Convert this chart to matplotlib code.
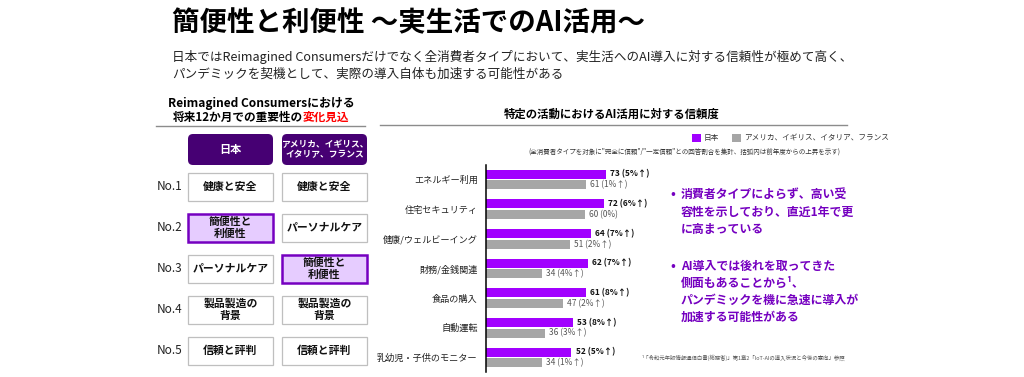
import matplotlib
matplotlib.use("Agg")
import matplotlib.pyplot as plt
from matplotlib.patches import FancyBboxPatch, Rectangle

plt.rcParams['font.family'] = ['Noto Sans CJK JP', 'DejaVu Sans']

# ---- data ----
title = '簡便性と利便性 ～実生活でのAI活用～'
subtitle = ['日本ではReimagined Consumersだけでなく全消費者タイプにおいて、実生活へのAI導入に対する信頼性が極めて高く、',
            'パンデミックを契機として、実際の導入自体も加速する可能性がある']

ranks = ['No.1', 'No.2', 'No.3', 'No.4', 'No.5']
japan_rank = ['健康と安全', '簡便性と\n利便性', 'パーソナルケア', '製品製造の\n背景', '信頼と評判']
other_rank = ['健康と安全', 'パーソナルケア', '簡便性と\n利便性', '製品製造の\n背景', '信頼と評判']
rank_headers = ['日本', 'アメリカ、イギリス、\nイタリア、フランス']
highlight = '簡便性と\n利便性'

categories = ['エネルギー利用', '住宅セキュリティ', '健康/ウェルビーイング', '財務/金銭関連',
              '食品の購入', '自動運転', '乳幼児・子供のモニター']
japan = [73, 72, 64, 62, 61, 53, 52]
japan_delta = ['5%↑', '6%↑', '7%↑', '7%↑', '8%↑', '8%↑', '5%↑']
others = [61, 60, 51, 34, 47, 36, 34]
others_delta = ['1%↑', '0%', '2%↑', '4%↑', '2%↑', '3%↑', '1%↑']
series_names = ['日本', 'アメリカ、イギリス、イタリア、フランス']

bullets = [['消費者タイプによらず、高い受', '容性を示しており、直近1年で更', 'に高まっている'],
           ['AI導入では後れを取ってきた', '側面もあることから¹、', 'パンデミックを機に急速に導入が', '加速する可能性がある']]
footnote = '¹「令和元年版情報通信白書(総務省)」第1章2「IoT-AIの導入状況と今後の意向」参照'

# ---- colours ----
PURPLE = '#A100FF'
DARK = '#460073'
TEXT_PURPLE = '#7500C0'
LIGHT = '#E6CCFF'
GRAY = '#A6A6A6'

W, H = 1024, 377
fig = plt.figure(figsize=(W / 100, H / 100), dpi=100)

# overlay axes in pixel coordinates (y downwards)
ov = fig.add_axes([0, 0, 1, 1])
ov.set_xlim(0, W)
ov.set_ylim(H, 0)
ov.axis('off')

ov.text(172, 23, title, fontsize=19.8, fontweight='bold', va='center', ha='left')
ov.text(172, 57, subtitle[0], fontsize=9.05, va='center', ha='left', color='#222222')
ov.text(172, 74, subtitle[1], fontsize=9.05, va='center', ha='left', color='#222222')

# ---- left block: ranking table ----
ov.text(261, 104, 'Reimagined Consumersにおける', fontsize=8.6, fontweight='bold',
        ha='center', va='center')
fig.canvas.draw()
r = fig.canvas.get_renderer()
t1 = ov.text(0, 117, '将来12か月での重要性の', fontsize=8.4, fontweight='bold', ha='left', va='center')
t2 = ov.text(0, 117, '変化見込', fontsize=8.4, fontweight='bold', ha='left', va='center', color='#FF0000')
w1 = t1.get_window_extent(r).width
w2 = t2.get_window_extent(r).width
x0 = 261 - (w1 + w2) / 2
t1.set_x(x0)
t2.set_x(x0 + w1)
ov.plot([156, 365], [126, 126], color='#8C8C8C', lw=1)

col_x = [188, 282]
box_w = 85
# header boxes
for cx, lab in zip(col_x, rank_headers):
    ov.add_patch(FancyBboxPatch((cx + 3, 137), box_w - 6, 25,
                                boxstyle='round,pad=3,rounding_size=5',
                                fc=DARK, ec='none'))
    fs = 8 if '\n' not in lab else 6.3
    ov.text(cx + box_w / 2, 149.5, lab, color='white', fontsize=fs, fontweight='bold',
            ha='center', va='center', linespacing=1.2)

row_top, row_step, box_h = 172.5, 41, 28.5
for i, (rk, a, b) in enumerate(zip(ranks, japan_rank, other_rank)):
    y = row_top + i * row_step
    ov.text(170, y + box_h / 2, rk, fontsize=8.5, ha='center', va='center', color='#222222')
    for cx, lab in zip(col_x, [a, b]):
        hl = lab == highlight
        ov.add_patch(Rectangle((cx, y), box_w, box_h,
                               fc=LIGHT if hl else 'white',
                               ec=TEXT_PURPLE if hl else '#BFBFBF',
                               lw=1.8 if hl else 0.9))
        ov.text(cx + box_w / 2, y + box_h / 2, lab, fontsize=7.8, fontweight='bold',
                ha='center', va='center', linespacing=1.25, color='#111111')

# ---- right block header ----
ov.text(612, 114, '特定の活動におけるAI活用に対する信頼度', fontsize=8.2, fontweight='bold',
        ha='center', va='center')
ov.plot([380, 847], [125, 125], color='#8C8C8C', lw=1)

# legend
ov.add_patch(Rectangle((692, 134), 9, 8, fc=PURPLE, ec='none'))
ov.text(704, 138, series_names[0], fontsize=5.5, va='center', ha='left', color='#333333')
ov.add_patch(Rectangle((732, 134), 9, 8, fc=GRAY, ec='none'))
ov.text(744, 138, series_names[1], fontsize=5.5, va='center', ha='left', color='#333333')
ov.text(840, 152, '(全消費者タイプを対象に"完全に信頼"/"一定信頼"との回答割合を集計、括弧内は前年度からの上昇を示す)',
        fontsize=4.7, va='center', ha='right', color='#333333')

# ---- bar chart ----
ax_left, ax_top, ax_bottom = 486, 165, 372
ax = fig.add_axes([ax_left / W, 1 - ax_bottom / H, 164.4 / W, (ax_bottom - ax_top) / H])
ax.patch.set_alpha(0)
pos = list(range(len(categories)))
off, bh = 0.18, 0.31
ax.barh([p - off for p in pos], japan, height=bh, color=PURPLE)
ax.barh([p + off for p in pos], others, height=bh, color=GRAY)
for p, v, d in zip(pos, japan, japan_delta):
    ax.text(v + 2.5, p - off, f'{v} ({d})', fontsize=6, fontweight='bold',
            va='center', ha='left', color='#111111')
for p, v, d in zip(pos, others, others_delta):
    ax.text(v + 2.5, p + off, f'{v} ({d})', fontsize=6,
            va='center', ha='left', color='#555555')
ax.set_xlim(0, 100)
ax.set_ylim(len(categories) - 0.51, -0.49)
ax.set_yticks(pos)
ax.set_yticklabels(categories, fontsize=6.6, color='#222222')
ax.tick_params(axis='y', length=0, pad=6)
ax.set_xticks([])
for s in ['top', 'right', 'bottom']:
    ax.spines[s].set_visible(False)
ax.spines['left'].set_linewidth(1.1)

# ---- right-hand comments ----
line_step = 17.2
y_starts = [195, 266]
for ys, lines in zip(y_starts, bullets):
    ov.text(670, ys, '•', fontsize=9, fontweight='bold', color=TEXT_PURPLE,
            ha='left', va='center')
    for j, ln in enumerate(lines):
        ov.text(681, ys + j * line_step, ln, fontsize=8.6, fontweight='bold',
                color=TEXT_PURPLE, ha='left', va='center')

ov.text(641, 358, footnote, fontsize=3.9, color='#555555', ha='left', va='center')

fig.savefig('out.png', dpi=100)
